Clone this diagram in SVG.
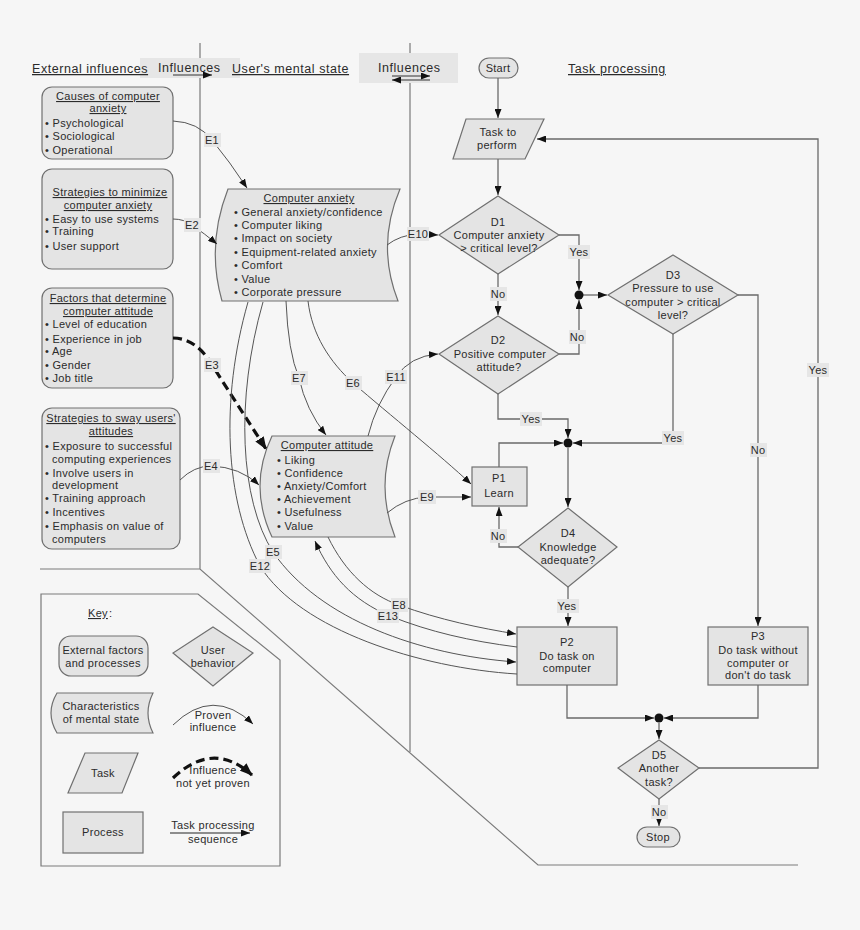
<svg xmlns="http://www.w3.org/2000/svg" width="860" height="930" viewBox="0 0 860 930">
<defs>
<marker id="ah" markerWidth="9" markerHeight="7" refX="9" refY="3.5" orient="auto" markerUnits="userSpaceOnUse"><path d="M0,0 L9,3.5 L0,7 z" fill="#111"/></marker>
<marker id="ahb" markerWidth="13" markerHeight="10" refX="12" refY="5" orient="auto" markerUnits="userSpaceOnUse"><path d="M0,0 L13,5 L0,10 z" fill="#111"/></marker>
</defs>
<style>
text{font-family:"Liberation Sans",Arial,sans-serif;font-size:11px;fill:#2b2b2b;letter-spacing:0.3px}
.c{text-anchor:middle}
.u{text-decoration:underline}
.h{font-size:12.5px;letter-spacing:0.55px}
.shape{fill:#e4e4e4;stroke:#707070;stroke-width:1.2}
.ln{fill:none;stroke:#555;stroke-width:1}
.fl{fill:none;stroke:#6a6a6a;stroke-width:1.3}
.lb{fill:#e6e6e6}
.frame{fill:none;stroke:#7a7a7a;stroke-width:1.2}
.dash{fill:none;stroke:#111;stroke-width:3.2;stroke-dasharray:9,5}
</style>
<rect width="860" height="930" fill="#f6f6f6"/>

<!-- frame lines -->
<g id="frame">
<path class="frame" d="M200,43 L200,569 M40,569 L200,569 L538,865 L798,865"/>
<path class="frame" d="M410,43 L410,752"/>
</g>

<!-- header shading -->
<g id="header-shading">
<rect x="140" y="58" width="100" height="20" class="lb"/>
<rect x="359" y="53" width="99" height="30" class="lb"/>
</g>

<!-- headers -->
<g id="headers">
<text class="h u" x="32" y="73">External influences </text>
<text class="h" x="158" y="72">Influences</text>
<line x1="173" y1="75" x2="212" y2="75" stroke="#333" stroke-width="1" marker-end="url(#ah)"/>
<text class="h u" x="232" y="73">User's mental state </text>
<text class="h" x="378" y="72">Influences</text>
<line x1="392" y1="76" x2="430" y2="76" stroke="#333" stroke-width="1" marker-end="url(#ah)"/>
<line x1="430" y1="80" x2="392" y2="80" stroke="#333" stroke-width="1" marker-end="url(#ah)"/>
<text class="h u" x="568" y="73">Task processing </text>
</g>

<!-- left boxes -->
<g id="box-causes">
<rect class="shape" x="42" y="87" width="131" height="72" rx="10"/>
<text class="c u" x="108" y="100">Causes of computer</text>
<text class="c u" x="108" y="112">anxiety</text>
<text x="45" y="127">• Psychological</text>
<text x="45" y="140">• Sociological</text>
<text x="45" y="154">• Operational</text>
</g>
<g id="box-minimize">
<rect class="shape" x="42" y="169" width="131" height="100" rx="10"/>
<text class="c u" x="110" y="196">Strategies to minimize</text>
<text class="c u" x="108" y="209">computer anxiety</text>
<text x="45" y="223">• Easy to use systems</text>
<text x="45" y="235">• Training</text>
<text x="45" y="250">• User support</text>
</g>
<g id="box-factors">
<rect class="shape" x="42" y="288" width="131" height="100" rx="10"/>
<text class="c u" x="108" y="302">Factors that determine</text>
<text class="c u" x="108" y="315">computer attitude</text>
<text x="45" y="328">• Level of education</text>
<text x="45" y="343">• Experience in job</text>
<text x="45" y="355">• Age</text>
<text x="45" y="369">• Gender</text>
<text x="45" y="382">• Job title</text>
</g>
<g id="box-sway">
<rect class="shape" x="42" y="408" width="138" height="141" rx="10"/>
<text class="c u" x="111" y="422">Strategies to sway users'</text>
<text class="c u" x="111" y="435">attitudes</text>
<text x="45" y="450">• Exposure to successful</text>
<text x="52" y="463">computing experiences</text>
<text x="45" y="477">• Involve users in</text>
<text x="52" y="489">development</text>
<text x="45" y="502">• Training approach</text>
<text x="45" y="516">• Incentives</text>
<text x="45" y="530">• Emphasis on value of</text>
<text x="52" y="543">computers</text>
</g>

<!-- mental state -->
<g id="anxiety">
<path class="shape" d="M228,189 L400,189 Q376,245 398,301 L222,301 Q206,245 228,189 Z"/>
<text class="c u" x="309" y="202">Computer anxiety</text>
<text x="234" y="216">• General anxiety/confidence</text>
<text x="234" y="229">• Computer liking</text>
<text x="234" y="242">• Impact on society</text>
<text x="234" y="256">• Equipment-related anxiety</text>
<text x="234" y="269">• Comfort</text>
<text x="234" y="283">• Value</text>
<text x="234" y="296">• Corporate pressure</text>
</g>
<g id="attitude">
<path class="shape" d="M272,436 L395,436 Q375,486 395,537 L272,537 Q248,486 272,436 Z"/>
<text class="c u" x="327" y="449">Computer attitude</text>
<text x="277" y="464">• Liking</text>
<text x="277" y="477">• Confidence</text>
<text x="277" y="490">• Anxiety/Comfort</text>
<text x="277" y="503">• Achievement</text>
<text x="277" y="516">• Usefulness</text>
<text x="277" y="530">• Value</text>
</g>

<!-- flowchart nodes -->
<g id="start">
<rect class="shape" x="479" y="58" width="39" height="20" rx="10"/>
<text class="c" x="498" y="72">Start</text>
</g>
<g id="task">
<path class="shape" d="M466,119 L544,119 L525,159 L453,159 Z"/>
<text class="c" x="498" y="136">Task to</text>
<text class="c" x="497" y="149">perform</text>
</g>
<g id="d1">
<path class="shape" d="M498,196 L559,235 L498,274 L439,235 Z"/>
<text class="c" x="498" y="226">D1</text>
<text class="c" x="499" y="239">Computer anxiety</text>
<text class="c" x="499" y="252">&gt; critical level?</text>
</g>
<g id="d2">
<path class="shape" d="M498,316 L559,354 L498,394 L439,354 Z"/>
<text class="c" x="498" y="344">D2</text>
<text class="c" x="500" y="358">Positive computer</text>
<text class="c" x="499" y="371">attitude?</text>
</g>
<g id="d3">
<path class="shape" d="M673,255 L738,295 L673,334 L608,295 Z"/>
<text class="c" x="673" y="279">D3</text>
<text class="c" x="673" y="292">Pressure to use</text>
<text class="c" x="673" y="306">computer &gt; critical</text>
<text class="c" x="673" y="319">level?</text>
</g>
<g id="p1">
<rect class="shape" x="472" y="467" width="55" height="39"/>
<text class="c" x="499" y="482">P1</text>
<text class="c" x="499" y="497">Learn</text>
</g>
<g id="d4">
<path class="shape" d="M568,508 L617,547 L568,587 L518,547 Z"/>
<text class="c" x="568" y="537">D4</text>
<text class="c" x="568" y="551">Knowledge</text>
<text class="c" x="568" y="564">adequate?</text>
</g>
<g id="p2">
<rect class="shape" x="517" y="627" width="100" height="58"/>
<text class="c" x="567" y="646">P2</text>
<text class="c" x="567" y="660">Do task on</text>
<text class="c" x="567" y="672">computer</text>
</g>
<g id="p3">
<rect class="shape" x="708" y="627" width="100" height="58"/>
<text class="c" x="758" y="640">P3</text>
<text class="c" x="758" y="654">Do task without</text>
<text class="c" x="758" y="667">computer or</text>
<text class="c" x="758" y="679">don't do task</text>
</g>
<g id="d5">
<path class="shape" d="M659,740 L699,768 L659,799 L618,768 Z"/>
<text class="c" x="659" y="759">D5</text>
<text class="c" x="659" y="772">Another</text>
<text class="c" x="659" y="786">task?</text>
</g>
<g id="stop">
<rect class="shape" x="637" y="827" width="43" height="20" rx="10"/>
<text class="c" x="658" y="841">Stop</text>
</g>

<!-- connectors -->
<g id="connectors">
<path class="ln" d="M173,121 Q198,122 212,140 Q230,162 247,188" marker-end="url(#ah)"/>
<path class="ln" d="M173,219 Q184,219 192,225 Q205,234 217,244" marker-end="url(#ah)"/>
<path class="dash" d="M173,338 C192,338 205,352 214,368 L266,449" marker-end="url(#ahb)"/>
<path class="ln" d="M180,480 Q194,466 211,466 Q240,467 259,485" marker-end="url(#ah)"/>
<path class="ln" d="M286,301 Q288,352 299,378 Q306,410 326,435" marker-end="url(#ah)"/>
<path class="ln" d="M308,301 C312,335 330,362 353,383 C390,415 440,455 471,484" marker-end="url(#ah)"/>
<path class="ln" d="M368,436 Q376,404 396,377 Q410,356 438,354" marker-end="url(#ah)"/>
<path class="ln" d="M387,513 Q405,498 427,497 L471,497" marker-end="url(#ah)"/>
<path class="ln" d="M387,245 Q400,235 418,234 L438,235" marker-end="url(#ah)"/>
<path class="ln" d="M328,537 C345,572 370,595 399,605 C440,620 480,628 516,634" marker-end="url(#ah)"/>
<path class="ln" d="M517,647 C470,641 430,632 390,616 C352,600 330,575 315,541" marker-end="url(#ah)"/>
<path class="ln" d="M263,302 C235,400 240,500 273,552 C320,620 420,655 516,662" marker-end="url(#ah)"/>
<path class="ln" d="M248,302 C220,400 225,500 260,566 C300,630 420,668 517,674"/>
<path class="fl" d="M498,78 L498,118" marker-end="url(#ah)"/>
<path class="fl" d="M498,159 L498,195" marker-end="url(#ah)"/>
<path class="fl" d="M559,235 L579,235 L579,290" marker-end="url(#ah)"/>
<path class="fl" d="M559,354 L579,354 L579,300" marker-end="url(#ah)"/>
<path class="fl" d="M583,295 L607,295" marker-end="url(#ah)"/>
<circle cx="579" cy="295" r="4.5" fill="#111"/>
<path class="fl" d="M498,274 L498,315" marker-end="url(#ah)"/>
<path class="fl" d="M498,394 L498,419 L568,419 L568,438" marker-end="url(#ah)"/>
<path class="fl" d="M673,334 L673,443 L573,443" marker-end="url(#ah)"/>
<path class="fl" d="M499,467 L499,443 L563,443" marker-end="url(#ah)"/>
<circle cx="568" cy="443" r="4.5" fill="#111"/>
<path class="fl" d="M568,448 L568,507" marker-end="url(#ah)"/>
<path class="fl" d="M518,547 L499,547 L499,507" marker-end="url(#ah)"/>
<path class="fl" d="M568,587 L568,626" marker-end="url(#ah)"/>
<path class="fl" d="M738,295 L758,295 L758,626" marker-end="url(#ah)"/>
<path class="fl" d="M567,685 L567,718 L654,718" marker-end="url(#ah)"/>
<path class="fl" d="M758,685 L758,718 L664,718" marker-end="url(#ah)"/>
<circle cx="659" cy="718" r="4.5" fill="#111"/>
<path class="fl" d="M659,723 L659,739" marker-end="url(#ah)"/>
<path class="fl" d="M699,768 L818,768 L818,139 L537,139" marker-end="url(#ah)"/>
<path class="fl" d="M659,799 L659,826" marker-end="url(#ah)"/>
</g>

<!-- connector labels -->
<g id="labels">
<rect class="lb" x="204" y="133" width="17" height="14"/><text class="c" x="212" y="144">E1</text>
<rect class="lb" x="184" y="218" width="17" height="14"/><text class="c" x="192" y="229">E2</text>
<rect class="lb" x="204" y="358" width="17" height="14"/><text class="c" x="212" y="369">E3</text>
<rect class="lb" x="203" y="459" width="17" height="14"/><text class="c" x="211" y="470">E4</text>
<rect class="lb" x="291" y="371" width="17" height="14"/><text class="c" x="299" y="382">E7</text>
<rect class="lb" x="345" y="376" width="17" height="14"/><text class="c" x="353" y="387">E6</text>
<rect class="lb" x="385" y="370" width="22" height="14"/><text class="c" x="396" y="381">E11</text>
<rect class="lb" x="418" y="490" width="18" height="14"/><text class="c" x="427" y="501">E9</text>
<rect class="lb" x="407" y="227" width="22" height="14"/><text class="c" x="418" y="238">E10</text>
<rect class="lb" x="391" y="598" width="17" height="14"/><text class="c" x="399" y="609">E8</text>
<rect class="lb" x="377" y="609" width="22" height="14"/><text class="c" x="388" y="620">E13</text>
<rect class="lb" x="265" y="545" width="17" height="14"/><text class="c" x="273" y="556">E5</text>
<rect class="lb" x="249" y="559" width="22" height="14"/><text class="c" x="260" y="570">E12</text>
<rect class="lb" x="568" y="245" width="22" height="14"/><text class="c" x="579" y="256">Yes</text>
<rect class="lb" x="490" y="287" width="17" height="14"/><text class="c" x="498" y="298">No</text>
<rect class="lb" x="569" y="330" width="17" height="14"/><text class="c" x="577" y="341">No</text>
<rect class="lb" x="520" y="412" width="22" height="14"/><text class="c" x="531" y="423">Yes</text>
<rect class="lb" x="662" y="431" width="22" height="14"/><text class="c" x="673" y="442">Yes</text>
<rect class="lb" x="750" y="443" width="17" height="14"/><text class="c" x="758" y="454">No</text>
<rect class="lb" x="807" y="363" width="22" height="14"/><text class="c" x="818" y="374">Yes</text>
<rect class="lb" x="490" y="529" width="17" height="14"/><text class="c" x="498" y="540">No</text>
<rect class="lb" x="557" y="599" width="22" height="14"/><text class="c" x="567" y="610">Yes</text>
<rect class="lb" x="651" y="805" width="17" height="14"/><text class="c" x="659" y="816">No</text>
</g>

<!-- key -->
<g id="key">
<path class="frame" d="M41,594 L198,594 L280,660 L280,866 L41,866 Z"/>
<text class="u" x="88" y="617">Key</text><text x="109" y="617">:</text>
<g id="key-external">
<rect class="shape" x="59" y="636" width="89" height="40" rx="12"/>
<text class="c" x="103" y="654">External factors</text>
<text class="c" x="103" y="667">and processes</text>
</g>
<g id="key-behavior">
<path class="shape" d="M213,627 L253,653 L213,686 L173,653 Z"/>
<text class="c" x="213" y="654">User</text>
<text class="c" x="213" y="667">behavior</text>
</g>
<g id="key-mental">
<path class="shape" d="M57,693 L153,693 Q143,713 153,733 L57,733 Q45,713 57,693 Z"/>
<text class="c" x="101" y="710">Characteristics</text>
<text class="c" x="101" y="723">of mental state</text>
</g>
<g id="key-proven">
<path class="ln" d="M173,725 Q213,686 253,724" marker-end="url(#ah)"/>
<text class="c" x="213" y="719">Proven</text>
<text class="c" x="213" y="731">influence</text>
</g>
<g id="key-task">
<path class="shape" d="M85,753 L138,753 L122,793 L68,793 Z"/>
<text class="c" x="103" y="777">Task</text>
</g>
<g id="key-unproven">
<path class="dash" d="M173,778 Q213,740 252,775" marker-end="url(#ahb)"/>
<text class="c" x="213" y="774">Influence</text>
<text class="c" x="213" y="787">not yet proven</text>
</g>
<g id="key-process">
<rect class="shape" x="63" y="812" width="80" height="41"/>
<text class="c" x="103" y="836">Process</text>
</g>
<g id="key-sequence">
<line class="fl" x1="170" y1="833" x2="250" y2="833" marker-end="url(#ah)"/>
<text class="c" x="213" y="829">Task processing</text>
<text class="c" x="213" y="843">sequence</text>
</g>
</g>
</svg>
